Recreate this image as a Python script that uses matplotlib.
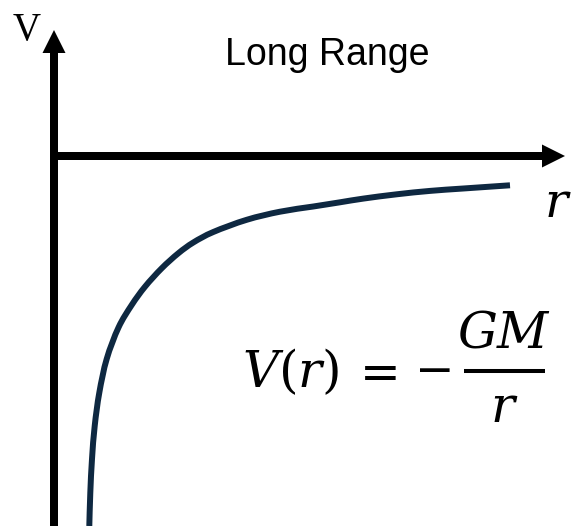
import matplotlib
matplotlib.use("Agg")
import matplotlib.pyplot as plt
from matplotlib.path import Path
from matplotlib.patches import PathPatch

# Potential curve V(r) traced as (r, V) pairs, arbitrary units
r_vals = [0.353, 0.363, 0.380, 0.407, 0.453, 0.527, 0.645, 0.777, 0.910,
          1.077, 1.243, 1.393, 1.593, 1.927, 2.260, 2.593, 2.860, 3.093,
          3.427, 3.760, 4.093, 4.560]
v_vals = [-3.700, -3.367, -3.030, -2.700, -2.367, -2.030, -1.715, -1.490, -1.307,
          -1.123, -0.973, -0.865, -0.760, -0.638, -0.557, -0.505, -0.463, -0.426,
          -0.383, -0.349, -0.325, -0.293]

title_text = "Long Range"
y_label = "V"
x_label = r"$r$"
lhs_text = r"$V(r)$"
eq_text = r"$=$"
minus_text = r"$-$"
num_text = r"$GM$"
den_text = r"$r$"

plt.rcParams["mathtext.fontset"] = "dejavuserif"

fig = plt.figure(figsize=(5.71, 5.26), dpi=100)
ax = fig.add_axes([0, 0, 1, 1])
ax.set_xlim(-0.54, 5.17)
ax.set_ylim(-3.70, 1.56)
ax.axis("off")

# Coordinate axes with filled arrow heads
ax.arrow(0, -3.9, 0, 1.26 + 3.9, width=0.08, head_width=0.23, head_length=0.23,
         length_includes_head=True, color="black", linewidth=0)
ax.arrow(-0.04, 0, 5.11 + 0.04, 0, width=0.08, head_width=0.23, head_length=0.23,
         length_includes_head=True, color="black", linewidth=0)


def smooth_path(xs, ys):
    """Catmull-Rom style cubic Bezier path through the given vertices."""
    pts = list(zip(xs, ys))
    n = len(pts)
    verts = [pts[0]]
    codes = [Path.MOVETO]
    for i in range(n - 1):
        p0 = pts[max(i - 1, 0)]
        p1 = pts[i]
        p2 = pts[i + 1]
        p3 = pts[min(i + 2, n - 1)]
        c1 = (p1[0] + (p2[0] - p0[0]) / 6, p1[1] + (p2[1] - p0[1]) / 6)
        c2 = (p2[0] - (p3[0] - p1[0]) / 6, p2[1] - (p3[1] - p1[1]) / 6)
        verts += [c1, c2, p2]
        codes += [Path.CURVE4] * 3
    return Path(verts, codes)


# Potential curve
ax.add_patch(PathPatch(smooth_path(r_vals, v_vals), facecolor="none",
                       edgecolor="#0E2841", linewidth=4.3, capstyle="butt",
                       joinstyle="round"))

ax.text(2.73, 0.91, title_text, ha="center", va="baseline", fontsize=27,
        family="Liberation Sans")
ax.text(-0.41, 1.16, y_label, ha="left", va="baseline", fontsize=28,
        family="Liberation Serif")
ax.text(4.90, -0.61, x_label, ha="left", va="baseline", fontsize=35)

# V(r) = -GM/r
ax.text(1.88, -2.307, lhs_text, ha="left", va="baseline", fontsize=36)
ax.text(3.19, -2.17, eq_text, ha="center", va="center", fontsize=35)
ax.text(3.785, -2.15, minus_text, ha="center", va="center", fontsize=34)
ax.plot([4.10, 4.91], [-2.15, -2.15], color="black", linewidth=2.9,
        solid_capstyle="butt")
ax.text(4.505, -1.91, num_text, ha="center", va="baseline", fontsize=36)
ax.text(4.50, -2.66, den_text, ha="center", va="baseline", fontsize=36)

fig.savefig("out.png", dpi=100)
